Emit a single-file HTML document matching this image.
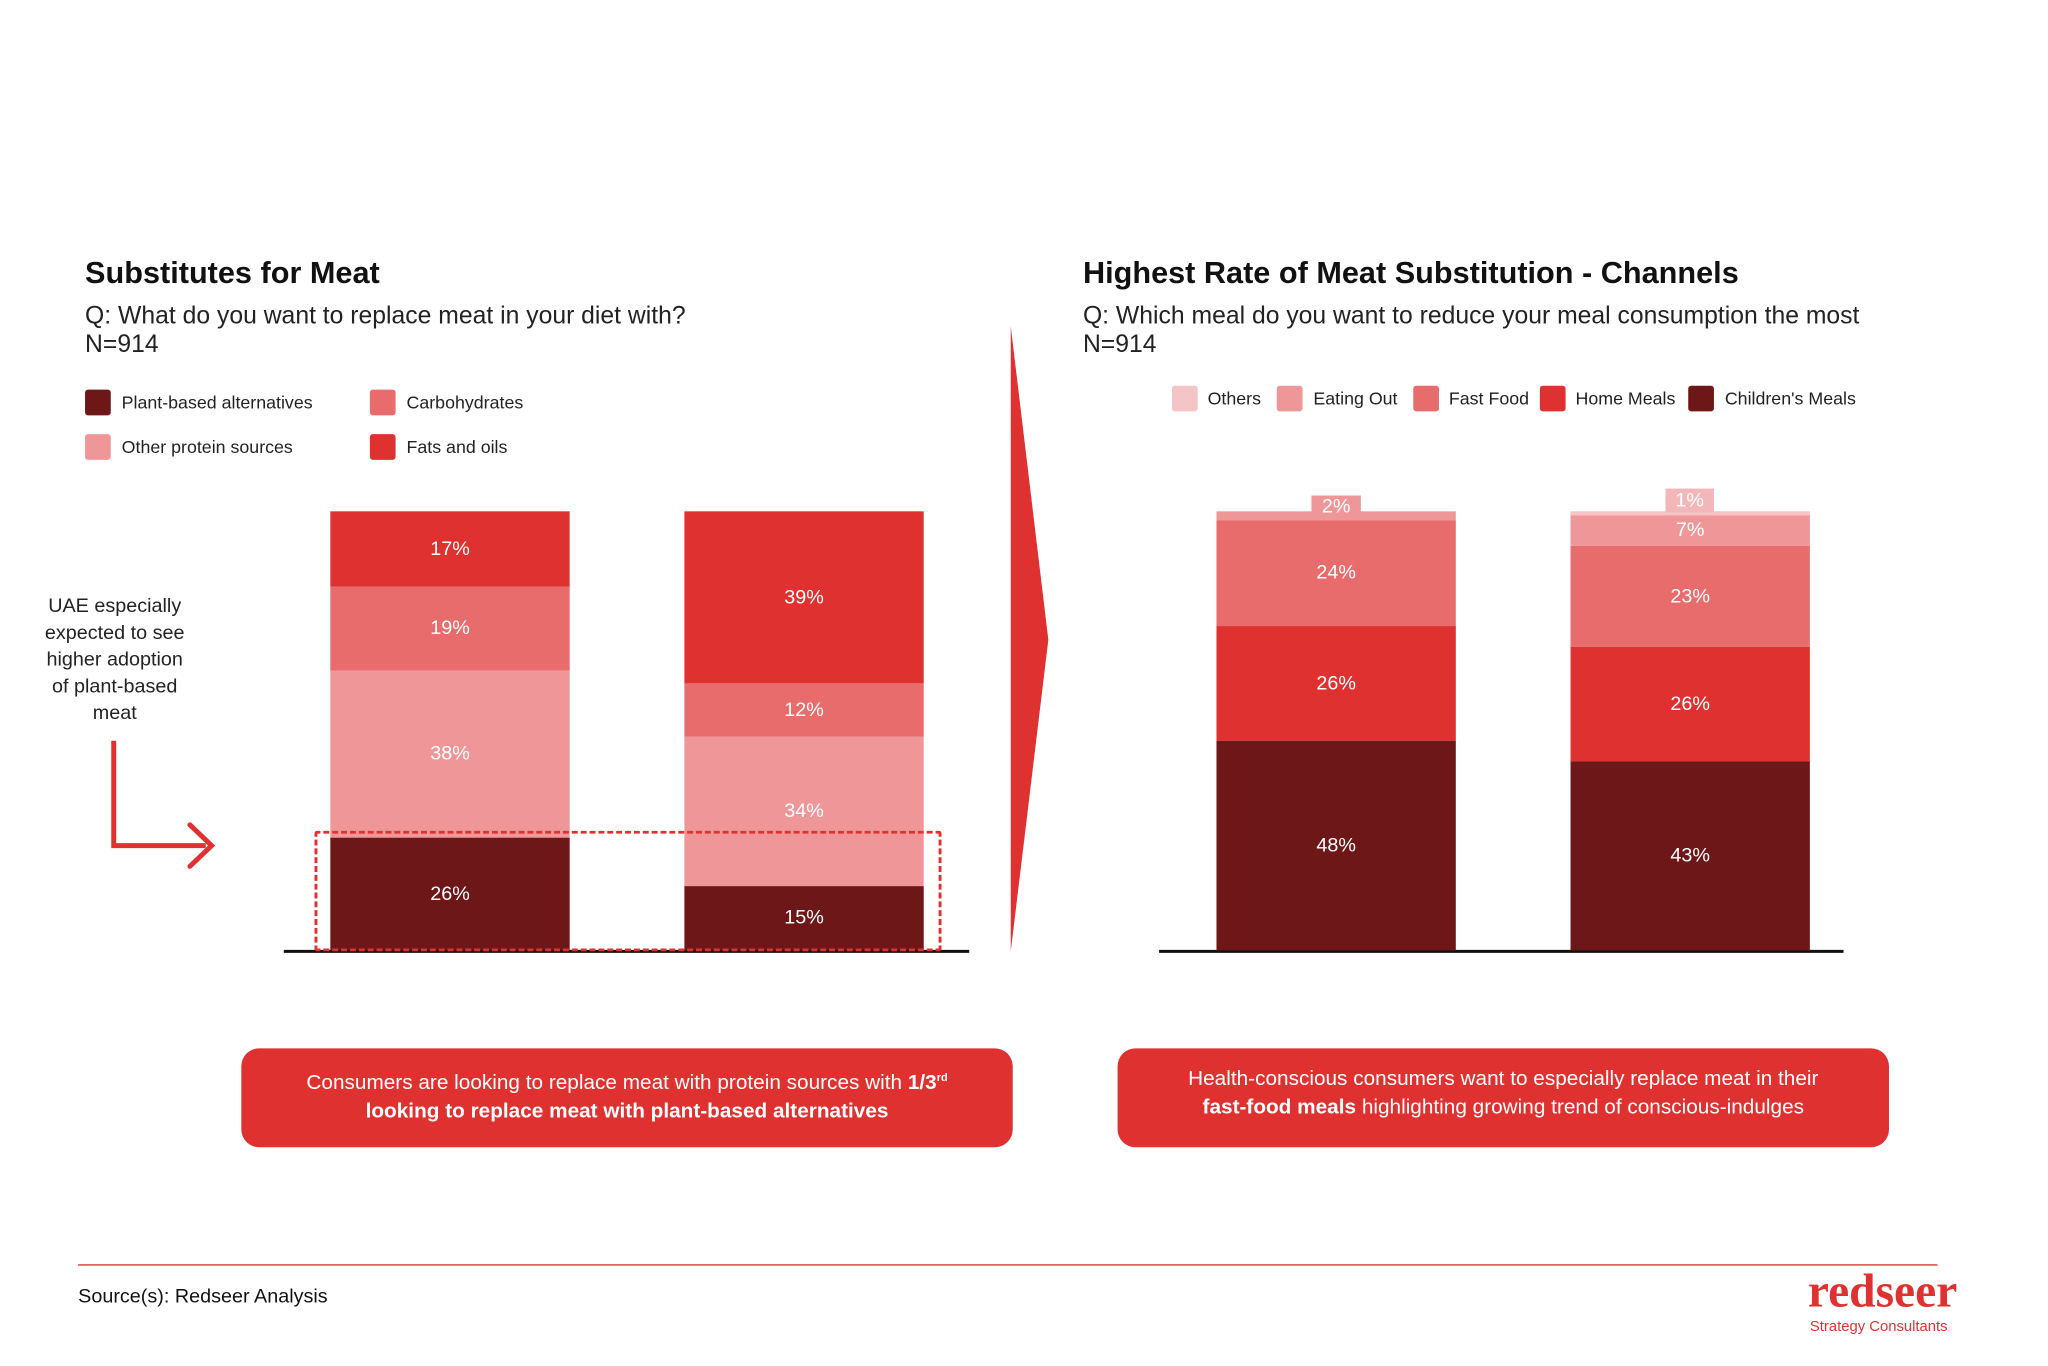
<!DOCTYPE html>
<html><head><meta charset="utf-8"><style>
body{margin:0;width:2048px;height:1366px;background:#fff;position:relative;overflow:hidden;font-family:"Liberation Sans",sans-serif;color:#111}
#w{position:absolute;left:0;top:0;width:2070px;height:1380px;transform:scale(0.989);transform-origin:0 0}
.a{position:absolute}
.seg{position:absolute;display:flex;align-items:center;justify-content:center;color:#fff;font-size:20px}
.d{background:#6e1718}.r{background:#e03131}.c{background:#e86c6c}.p{background:#ef9798}.o{background:#f4c4c6}
.sq{position:absolute;width:26px;height:26px;border-radius:3px}
.lt{position:absolute;font-size:18px;color:#222}
.h{font-size:31px;font-weight:bold;color:#111}
.s{font-size:25px;color:#222;line-height:29px}
.box{position:absolute;background:#e03131;border-radius:18px;color:#fff;font-size:21px;text-align:center;line-height:29px;box-sizing:border-box;padding-top:16px}
</style></head><body><div id="w">
<div class="a h" style="left:86px;top:258px">Substitutes for Meat</div>
<div class="a s" style="left:86px;top:305px">Q: What do you want to replace meat in your diet with?<br>N=914</div>
<div class="sq d" style="left:86px;top:394px"></div><div class="lt" style="left:123px;top:397px">Plant-based alternatives</div>
<div class="sq c" style="left:374px;top:394px"></div><div class="lt" style="left:411px;top:397px">Carbohydrates</div>
<div class="sq p" style="left:86px;top:439px"></div><div class="lt" style="left:123px;top:442px">Other protein sources</div>
<div class="sq r" style="left:374px;top:439px"></div><div class="lt" style="left:411px;top:442px">Fats and oils</div>

<div class="a" style="left:40px;top:600px;width:152px;text-align:center;font-size:20px;line-height:27px;color:#222">UAE especially expected to see higher adoption of plant-based meat</div>
<svg class="a" style="left:0;top:0" width="2070" height="1380">
<polyline points="115,749 115,855 208,855" fill="none" stroke="#e03131" stroke-width="5"/>
<polyline points="192,834 214,855 192,876" fill="none" stroke="#e03131" stroke-width="5" stroke-linecap="round"/>
<polygon points="1022,330 1060,647 1022,962" fill="#e03131"/>
<line x1="287" y1="962" x2="980" y2="962" stroke="#111" stroke-width="3"/>
<line x1="1172" y1="962" x2="1864" y2="962" stroke="#111" stroke-width="3"/>
<line x1="79" y1="1279" x2="1959" y2="1279" stroke="#e03131" stroke-width="1.5"/>
</svg>

<div class="seg r" style="left:334px;top:517px;width:242px;height:76px">17%</div>
<div class="seg c" style="left:334px;top:593px;width:242px;height:85px">19%</div>
<div class="seg p" style="left:334px;top:678px;width:242px;height:169px">38%</div>
<div class="seg d" style="left:334px;top:847px;width:242px;height:114px">26%</div>
<div class="seg r" style="left:692px;top:517px;width:242px;height:174px">39%</div>
<div class="seg c" style="left:692px;top:691px;width:242px;height:54px">12%</div>
<div class="seg p" style="left:692px;top:745px;width:242px;height:151px">34%</div>
<div class="seg d" style="left:692px;top:896px;width:242px;height:65px">15%</div>
<div class="a" style="left:318px;top:840px;width:628px;height:116px;border:3px dashed #e03131;border-radius:3px"></div>

<div class="a h" style="left:1095px;top:258px">Highest Rate of Meat Substitution - Channels</div>
<div class="a s" style="left:1095px;top:305px">Q: Which meal do you want to reduce your meal consumption the most<br>N=914</div>
<div class="sq o" style="left:1185px;top:390px"></div><div class="lt" style="left:1221px;top:393px">Others</div>
<div class="sq p" style="left:1291px;top:390px"></div><div class="lt" style="left:1328px;top:393px">Eating Out</div>
<div class="sq c" style="left:1429px;top:390px"></div><div class="lt" style="left:1465px;top:393px">Fast Food</div>
<div class="sq r" style="left:1557px;top:390px"></div><div class="lt" style="left:1593px;top:393px">Home Meals</div>
<div class="sq d" style="left:1707px;top:390px"></div><div class="lt" style="left:1744px;top:393px">Children's Meals</div>

<div class="seg p" style="left:1230px;top:517px;width:242px;height:9px"></div>
<div class="seg p" style="left:1326px;top:501px;width:50px;height:22px">2%</div>
<div class="seg c" style="left:1230px;top:526px;width:242px;height:107px">24%</div>
<div class="seg r" style="left:1230px;top:633px;width:242px;height:116px">26%</div>
<div class="seg d" style="left:1230px;top:749px;width:242px;height:212px">48%</div>
<div class="seg p" style="left:1588px;top:517px;width:242px;height:4px;background:#f4c4c6"></div>
<div class="seg p" style="left:1684px;top:494px;width:49px;height:24px;background:#f4b7b9">1%</div>
<div class="seg p" style="left:1588px;top:521px;width:242px;height:31px">7%</div>
<div class="seg c" style="left:1588px;top:552px;width:242px;height:102px">23%</div>
<div class="seg r" style="left:1588px;top:654px;width:242px;height:116px">26%</div>
<div class="seg d" style="left:1588px;top:770px;width:242px;height:191px">43%</div>

<div class="box" style="left:244px;top:1060px;width:780px;height:100px">Consumers are looking to replace meat with protein sources with <b>1/3<sup style="font-size:11px">rd</sup></b><br><b>looking to replace meat with plant-based alternatives</b></div>
<div class="box" style="left:1130px;top:1060px;width:780px;height:100px">Health-conscious consumers want to especially replace meat in their<br><b>fast-food meals</b> highlighting growing trend of conscious-indulges</div>

<div class="a" style="left:79px;top:1300px;font-size:20px;font-weight:500;color:#111">Source(s): Redseer Analysis</div>
<div class="a" style="left:1828px;top:1282px;font-family:'Liberation Serif',serif;font-size:48px;font-weight:bold;color:#e03131;line-height:48px">redseer</div>
<div class="a" style="left:1830px;top:1333px;font-size:15px;color:#e03131">Strategy Consultants</div>
</div></body></html>
